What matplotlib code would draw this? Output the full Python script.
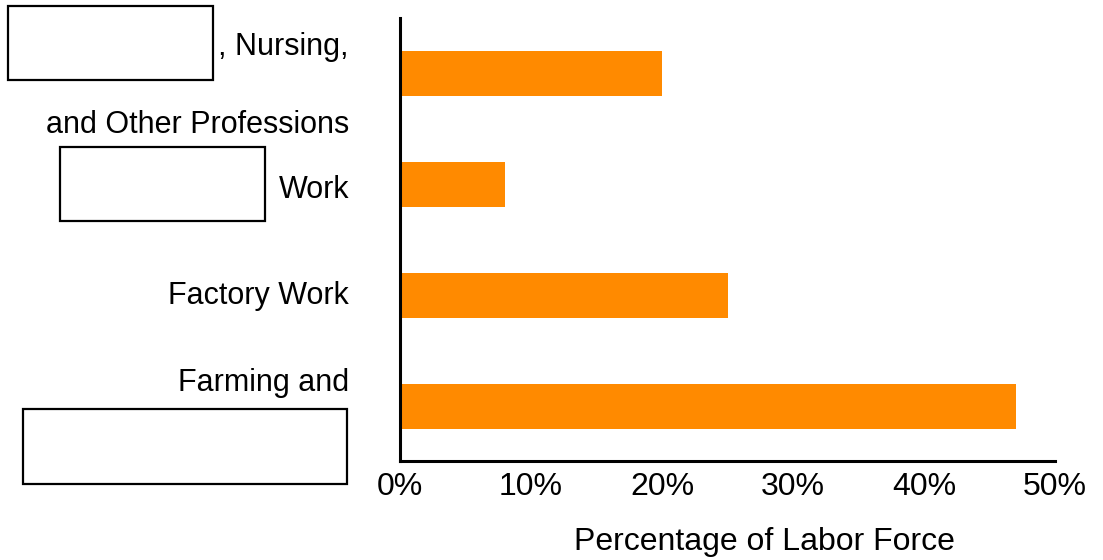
import matplotlib
matplotlib.use("Agg")
import matplotlib.pyplot as plt
from matplotlib.patches import Rectangle

# data (top to bottom in the picture)
categories = ["Blank, Nursing, and Other Professions", "Blank Work", "Factory Work", "Farming and Blank"]
values = [20, 8, 25, 47]
xticks = [0, 10, 20, 30, 40, 50]
xtick_labels = ["0%", "10%", "20%", "30%", "40%", "50%"]

plt.rcParams['font.family'] = ['Liberation Sans', 'DejaVu Sans']

W, H = 1103, 560
fig = plt.figure(figsize=(W / 100, H / 100), dpi=100)
ax = fig.add_axes([400 / W, 1 - 461 / H, 655 / W, 443 / H])

ypos = list(range(len(values)))[::-1]
ax.barh(ypos, values, height=0.4, color='#FF8A00')

ax.set_xlim(0, 50)
ax.set_ylim(-0.49, 3.5)
ax.set_xticks(xticks)
ax.set_xticklabels(xtick_labels, fontsize=23)
ax.set_yticks([])
ax.tick_params(axis='x', length=0, pad=8)
for s in ['top', 'right']:
    ax.spines[s].set_visible(False)
for s in ['left', 'bottom']:
    ax.spines[s].set_linewidth(2.2)
ax.set_xlabel('Percentage of Labor Force', fontsize=23, labelpad=18)
ax.xaxis.label.set_x(0.557)


def px(x, y):
    return x / W, 1 - y / H


def box(x0, y0, x1, y1):
    fx, fy = px(x0, y1)
    fig.patches.append(Rectangle((fx, fy), (x1 - x0) / W, (y1 - y0) / H,
                                 transform=fig.transFigure, fill=False,
                                 edgecolor='black', linewidth=1.6))


def label(x, y, s, ha='right'):
    fx, fy = px(x, y)
    fig.text(fx, fy, s, ha=ha, va='center', fontsize=22)


# left-hand category labels with blank answer boxes
box(8, 6, 213, 80)
label(349, 47, ', Nursing,')
label(349, 125, 'and Other Professions')
box(60, 147, 265, 221)
label(349, 190, 'Work')
label(349, 296, 'Factory Work')
label(349, 383, 'Farming and')
box(23, 409, 347, 484)

fig.savefig('out.png', dpi=100)
